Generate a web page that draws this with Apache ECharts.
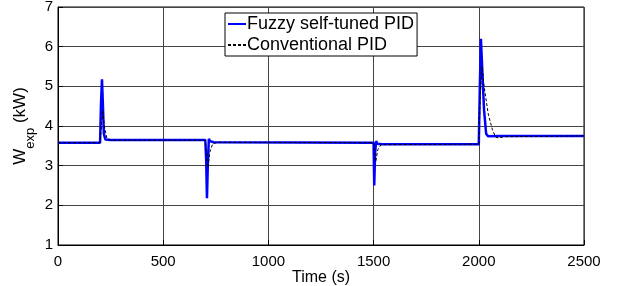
<!DOCTYPE html>
<html>
<head>
<meta charset="utf-8">
<script src="https://cdn.jsdelivr.net/npm/echarts@6/dist/echarts.min.js"></script>
<style>
  html, body { margin: 0; padding: 0; background: #fff; }
  #main { width: 618px; height: 286px; }
</style>
</head>
<body>
<div id="main"></div>
<script>
// Fuzzy self-tuned PID (time in s, W_exp in kW)
var fuzzyTime = [0, 200, 204, 209, 213, 218, 225, 250, 700, 704, 708, 712, 717, 722, 740,
    1500, 1503, 1507, 1512, 1518, 1540, 2000, 2005, 2010, 2015, 2025, 2035, 2045, 2100, 2500];
var fuzzyW = [3.58, 3.58, 4.5, 5.18, 4.6, 3.8, 3.66, 3.65, 3.65, 3.2, 2.18, 3.0, 3.68, 3.62, 3.59,
    3.58, 2.5, 3.3, 3.62, 3.55, 3.54, 3.54, 5.0, 6.2, 5.6, 4.4, 3.8, 3.74, 3.75, 3.75];

// Conventional PID
var convTime = [0, 200, 206, 212, 220, 232, 250, 700, 705, 712, 722, 735, 760,
    1500, 1505, 1510, 1520, 1535, 2000, 2007, 2015, 2025, 2045, 2065, 2080, 2095, 2120, 2500];
var convW = [3.58, 3.58, 4.0, 4.4, 4.0, 3.7, 3.64, 3.64, 3.3, 2.95, 3.35, 3.55, 3.59,
    3.58, 3.25, 3.1, 3.4, 3.53, 3.54, 4.8, 5.5, 5.0, 4.3, 3.9, 3.72, 3.7, 3.73, 3.75];

var xTicks = [0, 500, 1000, 1500, 2000, 2500];
var yTicks = [1, 2, 3, 4, 5, 6, 7];

function pairs(t, v) {
    return t.map(function (x, i) { return [x, v[i]]; });
}

var myChart = echarts.init(document.getElementById('main'));
var font = 'Liberation Sans, Arial, sans-serif';

option = {
    backgroundColor: '#fff',
    animation: false,
    textStyle: { fontFamily: font },
    grid: {
        left: 58, right: 34, top: 7, bottom: 41,
        outerBoundsMode: 'none',
        containLabel: false,
        show: true, borderColor: '#000', borderWidth: 1
    },
    legend: {
        orient: 'vertical',
        left: 225, top: 13,
        padding: [2, 3, 2, 2],
        itemGap: 3,
        itemWidth: 18,
        itemHeight: 16,
        backgroundColor: '#fff',
        borderColor: '#000',
        borderWidth: 1,
        borderRadius: 0,
        itemStyle: { color: 'transparent', borderWidth: 0 },
        textStyle: { fontSize: 18, color: '#000', fontFamily: font, padding: [0, 0, 0, -4] },
        data: ['Fuzzy self-tuned PID', 'Conventional PID']
    },
    xAxis: {
        type: 'value',
        min: xTicks[0], max: xTicks[xTicks.length - 1], interval: 500,
        name: 'Time (s)',
        nameLocation: 'middle',
        nameGap: 25,
        nameMoveOverlap: false,
        nameTextStyle: { fontSize: 16, color: '#000' },
        axisLine: { show: true, lineStyle: { color: '#000' } },
        axisTick: { inside: true, length: 5, lineStyle: { color: '#000' } },
        axisLabel: { fontSize: 15, color: '#000', margin: 9, formatter: function (v) { return String(v); } },
        splitLine: { show: true, lineStyle: { color: '#444', width: 1 } }
    },
    yAxis: {
        type: 'value',
        min: yTicks[0], max: yTicks[yTicks.length - 1], interval: 1,
        name: '{m|W}{s|exp}{m| (kW)}',
        nameLocation: 'middle',
        nameGap: 29,
        nameMoveOverlap: false,
        nameTextStyle: {
            color: '#000',
            rich: {
                m: { fontSize: 17, fontFamily: font, color: '#000', verticalAlign: 'bottom', lineHeight: 20 },
                s: { fontSize: 13, fontFamily: font, color: '#000', verticalAlign: 'bottom', lineHeight: 20, padding: [0, 0, -8, 0] }
            }
        },
        axisLine: { show: true, lineStyle: { color: '#000' } },
        axisTick: { inside: true, length: 5, lineStyle: { color: '#000' } },
        axisLabel: { fontSize: 15, color: '#000', margin: 5 },
        splitLine: { show: true, lineStyle: { color: '#444', width: 1 } }
    },
    series: [
        {
            name: 'Fuzzy self-tuned PID',
            type: 'line',
            symbol: 'none',
            z: 3,
            lineStyle: { color: '#0000ff', width: 2.5 },
            itemStyle: { color: '#0000ff' },
            data: pairs(fuzzyTime, fuzzyW)
        },
        {
            name: 'Conventional PID',
            type: 'line',
            symbol: 'none',
            z: 4,
            lineStyle: { color: '#000', width: 1, type: [3, 2] },
            itemStyle: { color: '#000' },
            data: pairs(convTime, convW)
        }
    ]
};
myChart.setOption(option);
window.addEventListener('resize', function () {
    myChart.resize();
});
</script>
</body>
</html>
